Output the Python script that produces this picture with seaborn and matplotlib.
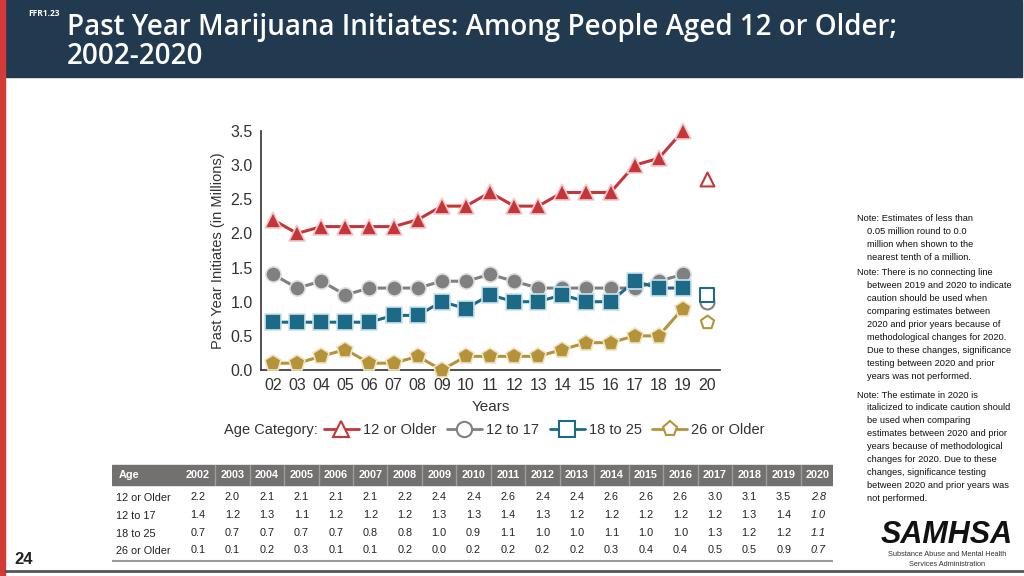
import pandas as pd
import matplotlib.pyplot as plt
import seaborn as sns
from matplotlib.lines import Line2D
from matplotlib.patches import Rectangle

# datos
years = list(range(2002, 2021))
year_ticks = ['02', '03', '04', '05', '06', '07', '08', '09', '10', '11',
              '12', '13', '14', '15', '16', '17', '18', '19', '20']
ages = ['12 or Older', '12 to 17', '18 to 25', '26 or Older']
v_12_older = [2.2, 2.0, 2.1, 2.1, 2.1, 2.1, 2.2, 2.4, 2.4, 2.6, 2.4, 2.4, 2.6, 2.6, 2.6, 3.0, 3.1, 3.5, 2.8]
v_12_17 = [1.4, 1.2, 1.3, 1.1, 1.2, 1.2, 1.2, 1.3, 1.3, 1.4, 1.3, 1.2, 1.2, 1.2, 1.2, 1.2, 1.3, 1.4, 1.0]
v_18_25 = [0.7, 0.7, 0.7, 0.7, 0.7, 0.8, 0.8, 1.0, 0.9, 1.1, 1.0, 1.0, 1.1, 1.0, 1.0, 1.3, 1.2, 1.2, 1.1]
v_26_older = [0.1, 0.1, 0.2, 0.3, 0.1, 0.1, 0.2, 0.0, 0.2, 0.2, 0.2, 0.2, 0.3, 0.4, 0.4, 0.5, 0.5, 0.9, 0.7]
series = [v_12_older, v_12_17, v_18_25, v_26_older]

colores = ['#C5363B', '#808080', '#1D6A86', '#B59339']
marcadores = ['^', 'o', 's', 'p']
bordes = ['#F3C9C9', '#E0E0E0', '#C9E3EE', '#EFE3C4']

titulo = 'Past Year Marijuana Initiates: Among People Aged 12 or Older;\n2002-2020'
notas = [
    ['Note: Estimates of less than', '0.05 million round to 0.0', 'million when shown to the',
     'nearest tenth of a million.'],
    ['Note: There is no connecting line', 'between 2019 and 2020 to indicate',
     'caution should be used when', 'comparing estimates between',
     '2020 and prior years because of', 'methodological changes for 2020.',
     'Due to these changes, significance', 'testing between 2020 and prior',
     'years was not performed.'],
    ['Note: The estimate in 2020 is', 'italicized to indicate caution should',
     'be used when comparing', 'estimates between 2020 and prior',
     'years because of methodological', 'changes for 2020. Due to these',
     'changes, significance testing', 'between 2020 and prior years was',
     'not performed.'],
]

sns.set_style('white')
plt.rcParams['font.family'] = ['Liberation Sans', 'DejaVu Sans']

W, H = 1024, 576
fig = plt.figure(figsize=(10.24, 5.76), dpi=100)


def fx(x):
    return x / W


def fy(y):
    return 1 - y / H


# cabecera
fig.patches.append(Rectangle((fx(5), fy(77)), fx(1017), 77 / H, transform=fig.transFigure,
                             color='#213A50', zorder=0))
fig.patches.append(Rectangle((0, 0), fx(5), 1, transform=fig.transFigure, color='#D33B36', zorder=1))
fig.text(fx(28), fy(13), 'FFR1.23', color='white', fontsize=6, fontweight='bold',
         va='center', family=['Open Sans', 'DejaVu Sans'])
fig.text(fx(67), fy(13), titulo, color='white', fontsize=20, fontweight='semibold',
         va='top', linespacing=1.02, family=['Open Sans', 'DejaVu Sans'])

# grafico
ax = fig.add_axes([fx(261), fy(370), 459 / W, 239 / H])
for i, age in enumerate(ages):
    df = pd.DataFrame({'Año': years[:-1], 'Valor': series[i][:-1]})
    sns.lineplot(data=df, x='Año', y='Valor', ax=ax, color=colores[i], marker=marcadores[i],
                 markersize=11 if marcadores[i] != 'p' else 12, markeredgecolor=bordes[i],
                 markeredgewidth=1.2, linewidth=2.2, clip_on=False, zorder=3)
    sns.scatterplot(x=[years[-1]], y=[series[i][-1]], ax=ax, marker=marcadores[i],
                    s=100, facecolor='white', edgecolor=colores[i], linewidth=1.5,
                    clip_on=False, zorder=3)

ax.set_xlim(2001.5, 2020.54)
ax.set_ylim(0, 3.5)
ax.set_xticks(years)
ax.set_xticklabels(year_ticks)
ax.set_yticks([0, 0.5, 1.0, 1.5, 2.0, 2.5, 3.0, 3.5])
ax.set_yticklabels(['0.0', '0.5', '1.0', '1.5', '2.0', '2.5', '3.0', '3.5'])
ax.tick_params(axis='both', length=0, labelsize=11.5, colors='#333333', pad=6)
for s in ['top', 'right']:
    ax.spines[s].set_visible(False)
for s in ['left', 'bottom']:
    ax.spines[s].set_color('#333333')
    ax.spines[s].set_linewidth(1.2)
ax.set_xlabel('Years', fontsize=11, color='#333333', labelpad=5)
ax.set_ylabel('Past Year Initiates (in Millions)', fontsize=10.5, color='#333333', labelpad=4)

# leyenda
fig.text(fx(224), fy(430), 'Age Category:', fontsize=10.5, color='#333333', va='center')
handles = [Line2D([], [], color=colores[i], marker=marcadores[i], markersize=11,
                  markerfacecolor='white', markeredgecolor=colores[i], markeredgewidth=1.5,
                  linewidth=2) for i in range(4)]
fig.legend(handles, ages, loc='center left', bbox_to_anchor=(fx(318), fy(430)), ncol=4,
           frameon=False, fontsize=10.5, handlelength=2.4, columnspacing=0.7,
           handletextpad=0.3, labelcolor='#333333', borderaxespad=0)

# tabla
tab = fig.add_axes([fx(112), fy(562), 721 / W, 98 / H])
tab.set_xlim(112, 833)
tab.set_ylim(562, 464)
tab.axis('off')
tab.add_patch(Rectangle((112, 465), 721, 20, color='#737070', zorder=1))
paso = 34.45
tab.text(119, 475, 'Age', color='white', fontsize=7.8, fontweight='bold', va='center')
for j, yr in enumerate(years):
    cx = 198 + paso * j
    tab.text(cx, 475, str(yr), color='white', fontsize=7.8, fontweight='bold',
             ha='center', va='center')
    if j > 0:
        tab.plot([cx - paso / 2, cx - paso / 2], [465, 485], color='#A09C9C', lw=1, zorder=2)
filas_y = [497, 515, 533, 550]
for i, age in enumerate(ages):
    tab.text(116, filas_y[i] + 1, age, color='#222222', fontsize=7.8, va='center')
    for j, v in enumerate(series[i]):
        tab.text(198 + paso * j, filas_y[i], f'{v:.1f}', color='#222222', fontsize=7.8,
                 ha='center', va='center', style='italic' if j == len(years) - 1 else 'normal')
tab.plot([112, 833], [561, 561], color='#9A9A9A', lw=1.5)

# notas
y0 = [219, 273, 395]
for k, bloque in enumerate(notas):
    for n, linea in enumerate(bloque):
        fig.text(fx(857 if n == 0 else 867), fy(y0[k] + n * 12.9), linea, fontsize=6.7,
                 color='#111111', va='center')

# logo y pie
fig.text(fx(947), fy(535), 'SAMHSA', fontsize=22, fontweight='bold', style='italic',
         ha='center', va='center', color='#111111')
fig.text(fx(947), fy(554), 'Substance Abuse and Mental Health', fontsize=5.3, ha='center',
         va='center', color='#333333')
fig.text(fx(947), fy(564), 'Services Administration', fontsize=5.3, ha='center',
         va='center', color='#333333')
fig.text(fx(14), fy(560), '24', fontsize=12, fontweight='bold', va='center', color='#222222')
fig.add_artist(Line2D([fx(5), 1], [fy(571), fy(571)], color='#555555', lw=2,
                      transform=fig.transFigure))

plt.savefig('out.png', dpi=100)
